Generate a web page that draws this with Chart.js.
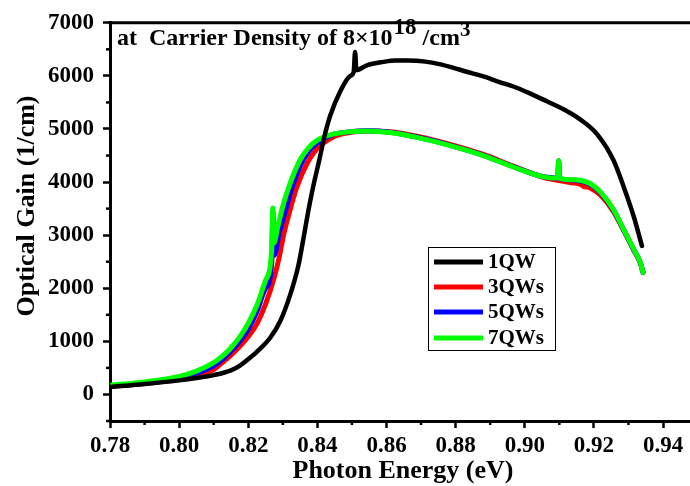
<!DOCTYPE html>
<html>
<head>
<meta charset="utf-8">
<script src="https://cdn.jsdelivr.net/npm/chart.js@4.4.1/dist/chart.umd.min.js"></script>
<style>
html,body{margin:0;padding:0;background:#fff;}
#wrap{width:690px;height:486px;}
</style>
</head>
<body>
<div id="wrap"><canvas id="c" width="690" height="486"></canvas></div>
<script>
// ---- data ----
const seriesNames = ['1QW', '3QWs', '5QWs', '7QWs'];
const seriesColors = ['#000000', '#ff0000', '#0000ff', '#00ff00'];

const e1 = [0.780,0.790,0.800,0.805,0.810,0.815,0.8176,0.8205,0.8234,0.8263,0.8292,0.8321,0.8345,0.8360,0.8375,0.8390,0.8405,0.8420,0.8437,0.8466,0.8495,0.8505,0.8509,0.8513,0.8543,0.8591,0.8625,0.8660,0.8688,0.8736,0.8784,0.8832,0.8880,0.8929,0.8967,0.9015,0.9064,0.9112,0.9160,0.9209,0.9257,0.9286,0.9315,0.9339];
const g1 = [140,195,265,310,365,455,545,690,860,1064,1374,1870,2427,2950,3500,3980,4400,4850,5250,5707,6000,6070,6450,6110,6200,6264,6290,6290,6285,6245,6171,6078,5990,5880,5800,5670,5521,5370,5181,4903,4407,3913,3356,2797];

const e3 = [0.780,0.790,0.800,0.805,0.810,0.8125,0.815,0.8175,0.820,0.8225,0.825,0.8275,0.829,0.8302,0.8321,0.834,0.837,0.8398,0.8446,0.8495,0.8543,0.8610,0.8688,0.8784,0.8880,0.8967,0.9054,0.9122,0.9160,0.9170,0.9189,0.9218,0.9257,0.9286,0.9315,0.9334,0.9342];
const g3 = [150,205,290,370,470,600,740,900,1090,1330,1700,2200,2600,3000,3478,3900,4350,4620,4850,4935,4960,4950,4865,4710,4520,4300,4090,4000,3960,3920,3890,3760,3440,3090,2720,2480,2300];

const e5 = [0.780,0.790,0.800,0.805,0.810,0.8125,0.815,0.8175,0.820,0.8225,0.825,0.8268,0.8271,0.8275,0.829,0.8307,0.8321,0.835,0.8375,0.840,0.8446,0.8495,0.8543,0.8610,0.8688,0.8784,0.8880,0.8967,0.9054,0.9095,0.9098,0.9101,0.9122,0.9160,0.9189,0.9218,0.9257,0.9286,0.9315,0.9334,0.9342];
const g5 = [160,220,315,400,540,660,820,1000,1230,1560,2000,2480,3450,2620,3050,3450,3780,4300,4580,4740,4900,4946,4966,4940,4848,4692,4505,4290,4100,4078,4400,4072,4045,4020,3960,3810,3470,3100,2730,2485,2300];

const e7 = [0.780,0.790,0.800,0.805,0.810,0.8125,0.815,0.8175,0.820,0.8225,0.825,0.8268,0.8271,0.8274,0.8285,0.830,0.8321,0.835,0.8375,0.840,0.8446,0.8495,0.8543,0.8610,0.8688,0.8784,0.8880,0.8967,0.9054,0.9095,0.9098,0.9101,0.9122,0.9160,0.9189,0.9218,0.9257,0.9286,0.9315,0.9334,0.9342];
const g7 = [170,235,340,440,600,720,880,1080,1340,1680,2150,2750,3510,2850,3150,3550,3974,4420,4650,4790,4903,4946,4964,4934,4841,4686,4500,4284,4098,4075,4407,4070,4048,4036,3974,3820,3478,3107,2735,2488,2300];

const xTickMin = 0.78, xTickMax = 0.9478, xStep = 0.01;
const yTickMin = -500, yTickMax = 7000, yStep = 500;
const xTitle = 'Photon Energy (eV)';
const yTitle = 'Optical Gain (1/cm)';

function pts(xs, ys){ return xs.map((x,i)=>({x:x, y:ys[i]})); }

const FONT = "'Liberation Serif','Times New Roman',serif";

const extras = {
  id: 'extras',
  afterDraw(chart){
    const ctx = chart.ctx, ca = chart.chartArea;
    const xs = chart.scales.x, ys = chart.scales.y;
    ctx.save();
    // top frame line
    ctx.strokeStyle = '#000'; ctx.lineWidth = 3;
    ctx.beginPath(); ctx.moveTo(ca.left - 1.5, ca.top); ctx.lineTo(ca.right, ca.top); ctx.stroke();
    // minor ticks
    ctx.lineWidth = 2.5;
    xs.ticks.forEach(t => {
      const k = Math.round(t.value*100);
      if (k % 2 !== 0) {
        const px = xs.getPixelForValue(t.value);
        ctx.beginPath(); ctx.moveTo(px, ca.bottom); ctx.lineTo(px, ca.bottom + 4); ctx.stroke();
      }
    });
    ys.ticks.forEach(t => {
      if (Math.round(t.value) % 1000 !== 0) {
        const py = ys.getPixelForValue(t.value);
        ctx.beginPath(); ctx.moveTo(ca.left, py); ctx.lineTo(ca.left - 4, py); ctx.stroke();
      }
    });
    // axis titles
    ctx.fillStyle = '#000';
    ctx.font = "bold 26px " + FONT;
    ctx.textAlign = 'center'; ctx.textBaseline = 'alphabetic';
    ctx.fillText(xTitle, 403, 478);
    ctx.save();
    ctx.translate(34, 206); ctx.rotate(-Math.PI/2);
    ctx.fillText(yTitle, 0, 0);
    ctx.restore();
    // annotation
    ctx.textAlign = 'left';
    let x = 117; const base = 45;
    ctx.font = "bold 24px " + FONT;
    const s1 = 'at  Carrier Density of 8\u00d710';
    ctx.fillText(s1, x, base); x += ctx.measureText(s1).width + 1;
    ctx.font = "bold 23px " + FONT;
    ctx.fillText('18', x, base - 11); x += ctx.measureText('18').width;
    ctx.font = "bold 24px " + FONT;
    const s2 = ' /cm';
    ctx.fillText(s2, x, base); x += ctx.measureText(s2).width;
    ctx.font = "bold 21px " + FONT;
    ctx.fillText('3', x, base - 9);
    // legend
    ctx.lineWidth = 1; ctx.strokeStyle = '#000';
    ctx.strokeRect(428.5, 247.5, 127, 103);
    const ly = [262, 287, 312, 338];
    ctx.font = "bold 21px " + FONT;
    ctx.textBaseline = 'middle';
    seriesNames.forEach((n,i) => {
      ctx.strokeStyle = seriesColors[i]; ctx.lineWidth = 5;
      ctx.beginPath(); ctx.moveTo(434, ly[i]); ctx.lineTo(483, ly[i]); ctx.stroke();
      ctx.fillStyle = '#000';
      ctx.fillText(n, 488, ly[i] + 1);
    });
    ctx.restore();
  }
};

const datasets = [
  {label: seriesNames[0], data: pts(e1,g1), borderColor: seriesColors[0], borderWidth: 4.5, order: 0},
  {label: seriesNames[1], data: pts(e3,g3), borderColor: seriesColors[1], borderWidth: 5, order: 3},
  {label: seriesNames[2], data: pts(e5,g5), borderColor: seriesColors[2], borderWidth: 5, order: 2},
  {label: seriesNames[3], data: pts(e7,g7), borderColor: seriesColors[3], borderWidth: 5, order: 1}
].map(d => Object.assign(d, {pointRadius: 0, fill: false, cubicInterpolationMode: 'monotone', borderCapStyle: 'round', borderJoinStyle: 'round'}));

new Chart(document.getElementById('c'), {
  type: 'line',
  data: {datasets},
  plugins: [extras],
  options: {
    responsive: false,
    animation: false,
    devicePixelRatio: 1,
    layout: {padding: {top: 17, right: 0, left: 0, bottom: 0}},
    plugins: {legend: {display: false}, tooltip: {enabled: false}},
    scales: {
      x: {
        type: 'linear', min: xTickMin, max: xTickMax,
        afterFit(s){ s.height = 65; },
        border: {display: true, color: '#000', width: 3},
        grid: {display: true, drawOnChartArea: false, drawTicks: true, tickLength: 7, tickWidth: 2.5,
               tickColor: c => (Math.round(c.tick.value*100) % 2 === 0) ? '#000' : 'rgba(0,0,0,0)'},
        ticks: {stepSize: xStep, includeBounds: false, autoSkip: false, maxRotation: 0, padding: 4,
                color: '#000', font: {family: FONT, weight: 'bold', size: 23},
                callback: v => (Math.round(v*100) % 2 === 0) ? v.toFixed(2) : ''}
      },
      y: {
        type: 'linear', min: yTickMin, max: yTickMax,
        afterFit(s){ s.width = 110; },
        border: {display: true, color: '#000', width: 3},
        grid: {display: true, drawOnChartArea: false, drawTicks: true, tickLength: 7, tickWidth: 2.5,
               tickColor: c => (Math.round(c.tick.value) % 1000 === 0) ? '#000' : 'rgba(0,0,0,0)'},
        ticks: {stepSize: yStep, includeBounds: false, autoSkip: false, padding: 9,
                color: '#000', font: {family: FONT, weight: 'bold', size: 23},
                callback: v => (Math.round(v) % 1000 === 0) ? String(v) : ''}
      }
    }
  }
});
</script>
</body>
</html>
